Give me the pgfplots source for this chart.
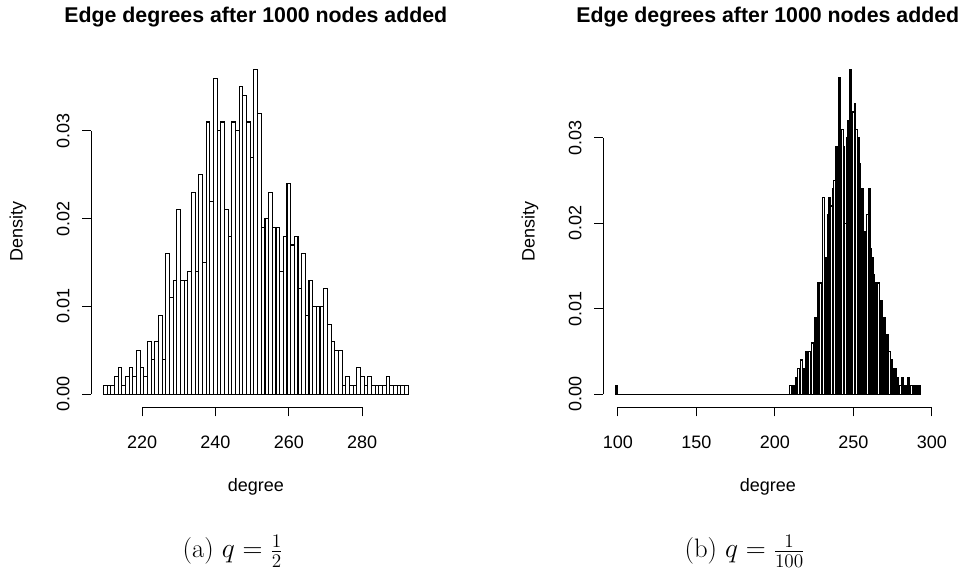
\documentclass[border=0pt]{standalone}
\usepackage{fontspec}
\usepackage{pgfplots}
\pgfplotsset{compat=1.18}
\newfontfamily\arial{Liberation Sans}

% 1 px of the reference = 0.75pt; plot region 329 x 351 px
\pgfplotsset{
  rhist/.style={
    scale only axis, width=246.75pt, height=263.25pt,
    clip=false,
    axis line style={draw=none},
    tick align=outside, major tick length=6.75pt,
    xtick pos=left, ytick pos=left,
    tick style={black, line width=0.75pt},
    /pgf/number format/assume math mode=true,
    tick label style={font=\arial\fontsize{13.5}{16}\selectfont},
    xticklabel shift=11.25pt,
    ytick={0,0.01,0.02,0.03},
    yticklabels={0.00,0.01,0.02,0.03},
    yticklabel style={rotate=90, anchor=south},
    yticklabel shift=6pt,
    scaled y ticks=false,
    xlabel=degree, ylabel=Density,
    every axis x label/.style={at={(axis description cs:0.5,-0.227)}, anchor=center,
      font=\arial\fontsize{13.5}{16}\selectfont},
    every axis y label/.style={at={(axis description cs:-0.2228,0.5)}, anchor=center, rotate=90,
      font=\arial\fontsize{13.5}{16}\selectfont},
    title=Edge degrees after 1000 nodes added,
    every axis title/.style={at={(axis description cs:0.5,1.0969)}, anchor=base,
      font=\arial\bfseries\fontsize{16}{19}\selectfont},
  },
  hbar/.style={ybar interval, draw=black, fill=white, line width=0.8pt},
}

\begin{document}
\begin{tikzpicture}
\path[use as bounding box] (-68.475pt,-128.775pt) rectangle (657.525pt,305.475pt);

% (a) q = 1/2
\begin{axis}[rhist, at={(0pt,0pt)},
  xmin=206.18, xmax=295.82, ymin=-0.00148, ymax=0.03848,
  xtick={220,240,260,280}]
\addplot[hbar] coordinates {
(209.5,.001)(210.5,.001)(211.5,.001)(212.5,.002)(213.5,.003)(214.5,.001)(215.5,.002)(216.5,.003)(217.5,.002)(218.5,.005)
(219.5,.003)(220.5,.002)(221.5,.006)(222.5,.004)(223.5,.006)(224.5,.009)(225.5,.004)(226.5,.016)(227.5,.011)(228.5,.013)
(229.5,.021)(230.5,.013)(231.5,.013)(232.5,.014)(233.5,.023)(234.5,.014)(235.5,.025)(236.5,.015)(237.5,.031)(238.5,.022)
(239.5,.036)(240.5,.030)(241.5,.031)(242.5,.021)(243.5,.018)(244.5,.031)(245.5,.030)(246.5,.035)(247.5,.034)(248.5,.031)
(249.5,.027)(250.5,.037)(251.5,.032)(252.5,.019)(253.5,.020)(254.5,.023)(255.5,.019)(256.5,.019)(257.5,.014)(258.5,.018)
(259.5,.024)(260.5,.017)(261.5,.018)(262.5,.012)(263.5,.016)(264.5,.009)(265.5,.013)(266.5,.010)(267.5,.010)(268.5,.010)
(269.5,.012)(270.5,.008)(271.5,.006)(272.5,.005)(273.5,.005)(274.5,.001)(275.5,.002)(276.5,.001)(277.5,.001)(278.5,.003)
(279.5,.002)(280.5,.001)(281.5,.002)(282.5,.001)(283.5,.001)(284.5,.001)(285.5,.001)(286.5,.002)(287.5,.001)(288.5,.001)
(289.5,.001)(290.5,.001)(291.5,.001)(292.5,0)};
\draw[line width=0.75pt] (axis cs:220,-0.00148) -- (axis cs:280,-0.00148);
\draw[line width=0.75pt] (axis cs:206.18,0) -- (axis cs:206.18,0.03);
\node[anchor=base, font=\fontsize{20}{24}\selectfont] at (axis description cs:0.43,-0.4293) {(a) $q=\frac{1}{2}$};
\end{axis}

% (b) q = 1/100
\begin{axis}[rhist, at={(384pt,0pt)},
  xmin=90.74, xmax=300.26, ymin=-0.00152, ymax=0.03952,
  xtick={100,150,200,250,300}]
\addplot[hbar, line width=1pt] coordinates {
(98.5,.001)(99.5,0)
(209.5,.001)(210.5,.001)(211.5,.001)(212.5,.001)(213.5,.002)(214.5,.003)(215.5,.001)(216.5,.004)(217.5,.002)(218.5,.003)
(219.5,.005)(220.5,.004)(221.5,.005)(222.5,.005)(223.5,.006)(224.5,.005)(225.5,.009)(226.5,.006)(227.5,.013)(228.5,.013)
(229.5,.010)(230.5,.023)(231.5,.013)(232.5,.016)(233.5,.021)(234.5,.023)(235.5,.022)(236.5,.024)(237.5,.025)(238.5,.029)
(239.5,.025)(240.5,.037)(241.5,.027)(242.5,.031)(243.5,.029)(244.5,.020)(245.5,.030)(246.5,.032)(247.5,.038)(248.5,.030)
(249.5,.033)(250.5,.034)(251.5,.031)(252.5,.030)(253.5,.027)(254.5,.020)(255.5,.024)(256.5,.019)(257.5,.018)(258.5,.021)
(259.5,.024)(260.5,.017)(261.5,.016)(262.5,.014)(263.5,.013)(264.5,.011)(265.5,.013)(266.5,.010)(267.5,.011)(268.5,.008)
(269.5,.009)(270.5,.006)(271.5,.007)(272.5,.005)(273.5,.004)(274.5,.003)(275.5,.001)(276.5,.003)(277.5,.002)(278.5,.001)
(279.5,.001)(280.5,.002)(281.5,.001)(282.5,.001)(283.5,.001)(284.5,.002)(285.5,.001)(286.5,.001)(287.5,.001)(288.5,.001)
(289.5,.001)(290.5,.001)(291.5,.001)(292.5,0)};
\draw[line width=0.75pt] (axis cs:100,-0.00152) -- (axis cs:300,-0.00152);
\draw[line width=0.75pt] (axis cs:90.74,0) -- (axis cs:90.74,0.03);
\node[anchor=base, font=\fontsize{20}{24}\selectfont] at (axis description cs:0.43,-0.4293) {(b) $q=\frac{1}{100}$};
\end{axis}
\end{tikzpicture}
\end{document}
